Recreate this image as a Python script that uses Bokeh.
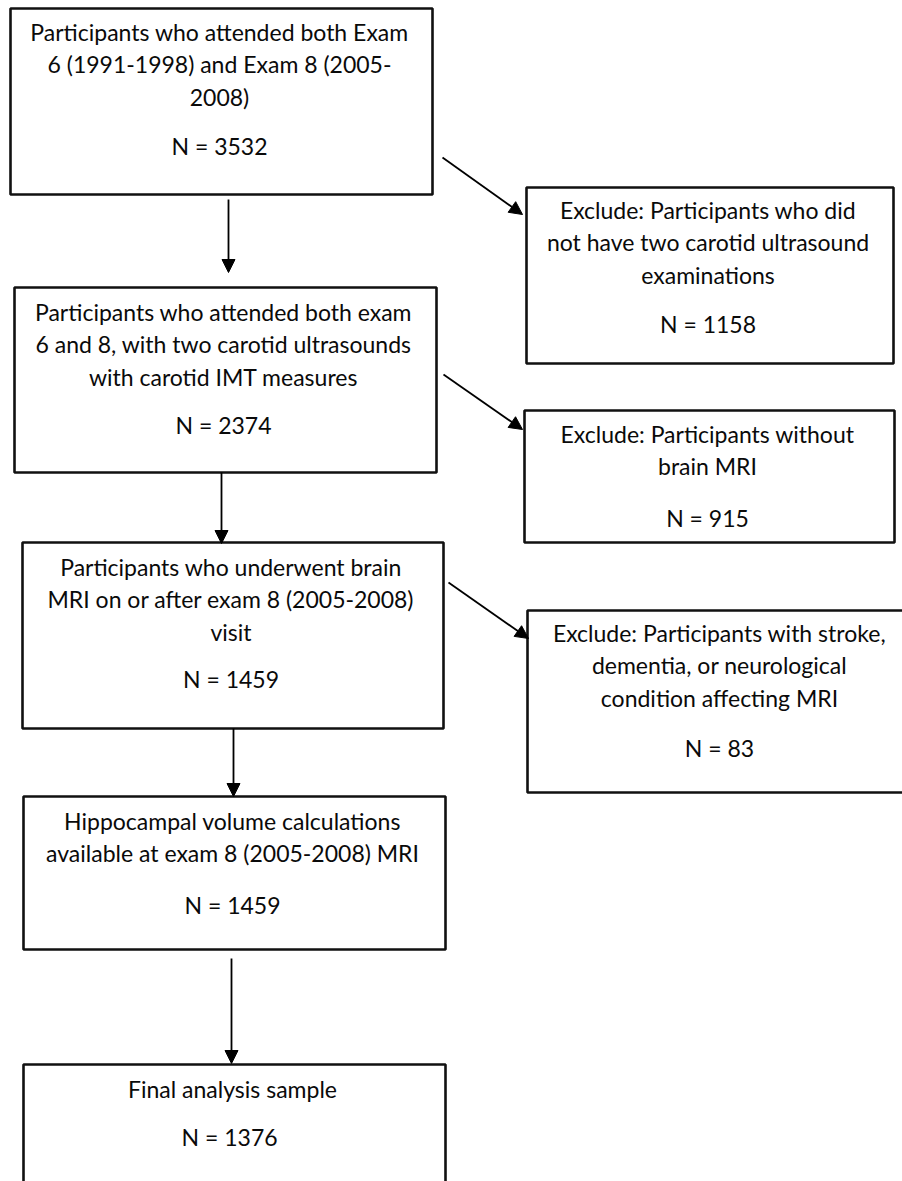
from bokeh.plotting import figure
from bokeh.models import Range1d, Arrow, NormalHead, ColumnDataSource
from bokeh.core.properties import value
from bokeh.embed import file_html
from bokeh.resources import INLINE

# ---- content (data) ----
box_lines = [
    ["Participants who attended both Exam", "6 (1991-1998) and Exam 8 (2005-", "2008)"],
    ["Exclude: Participants who did", "not have two carotid ultrasound", "examinations"],
    ["Participants who attended both exam", "6 and 8, with two carotid ultrasounds", "with carotid IMT measures"],
    ["Exclude: Participants without", "brain MRI"],
    ["Participants who underwent brain", "MRI on or after exam 8 (2005-2008)", "visit"],
    ["Exclude: Participants with stroke,", "dementia, or neurological", "condition affecting MRI"],
    ["Hippocampal volume calculations", "available at exam 8 (2005-2008) MRI"],
    ["Final analysis sample"],
]
box_counts = ["N = 3532", "N = 1158", "N = 2374", "N = 915", "N = 1459", "N = 83", "N = 1459", "N =  1376"]

# ---- layout (pixel positions on the page) ----
box_left = [10, 526, 14, 524, 22, 527, 23, 23]
box_right = [432, 893, 436, 894, 443, 915, 445, 445]
box_top = [8, 187, 287, 410, 542, 610, 796, 1064]
box_bottom = [194, 363, 472, 542, 728, 792, 949, 1200]
first_line_y = [31, 209, 311, 433, 566, 632, 820, 1088]
count_y = [145, 323, 424, 517, 678, 747, 904, 1136]
line_gap = 32.5

arrows = [  # x_start, y_start, x_end, y_end
    (442, 157, 522, 214),
    (228, 199, 228, 272),
    (443, 374, 522, 429),
    (221, 472, 221, 543),
    (448, 582, 528, 638),
    (233, 728, 233, 796),
    (231, 958, 231, 1063),
]

p = figure(width=902, height=1181, output_backend="svg", toolbar_location=None,
           x_range=Range1d(0, 902), y_range=Range1d(1181, 0),
           min_border=0, outline_line_color=None)
p.axis.visible = False
p.grid.visible = False
p.background_fill_color = "white"
p.border_fill_color = "white"

p.quad(left=box_left, right=box_right, top=box_top, bottom=box_bottom,
       fill_color="white", line_color="#111111", line_width=2.6)

for (x0, y0, x1, y1) in arrows:
    p.add_layout(Arrow(end=NormalHead(size=13, fill_color="black", line_color="black", line_width=1),
                       x_start=x0, y_start=y0, x_end=x1, y_end=y1,
                       line_color="black", line_width=1.8))

tx, ty, tt = [], [], []
for i, lines in enumerate(box_lines):
    cx = (box_left[i] + box_right[i]) / 2 - 2
    for j, s in enumerate(lines):
        tx.append(cx)
        ty.append(first_line_y[i] + j * line_gap)
        tt.append(s)
    tx.append(cx)
    ty.append(count_y[i])
    tt.append(box_counts[i])

src = ColumnDataSource(dict(x=tx, y=ty, t=tt))
p.text(x="x", y="y", text="t", source=src, text_align="center", text_baseline="middle",
       text_font=value("Lato"), text_font_size="23px", text_color="#0a0a0a")

open("out.html", "w").write(file_html(p, INLINE))
